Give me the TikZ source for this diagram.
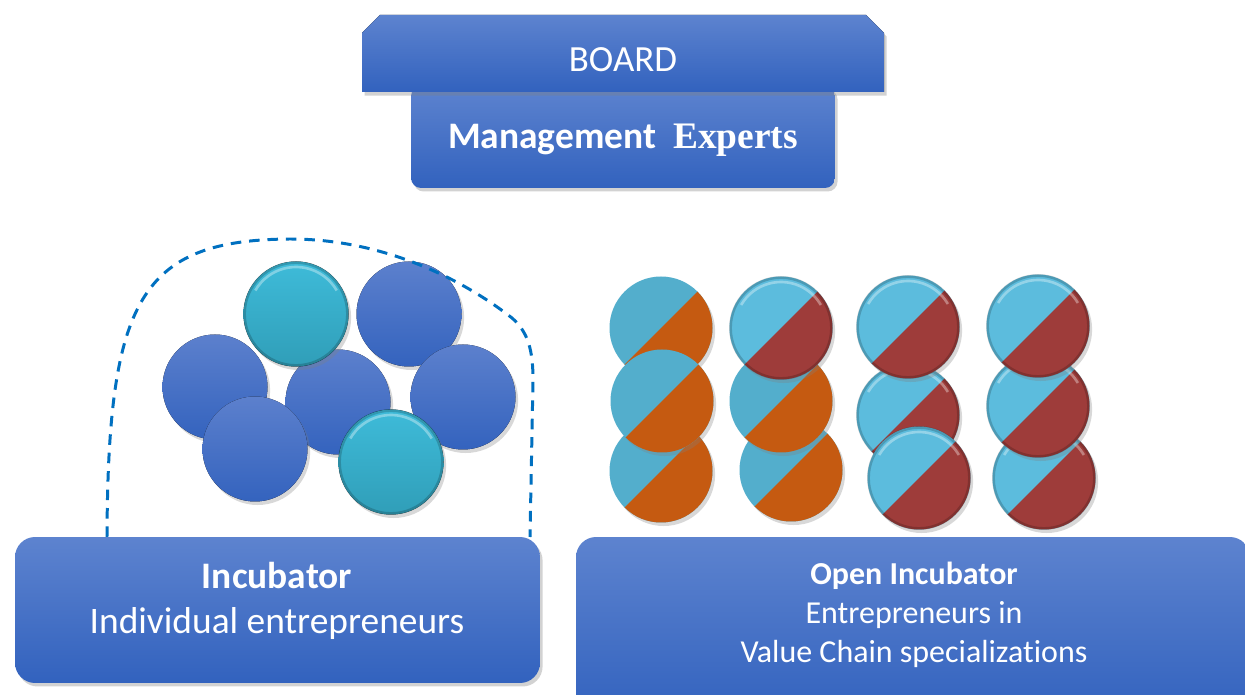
\documentclass[tikz,border=0pt]{standalone}
\usepackage{fontspec}
\setmainfont{Carlito}[Ligatures=NoCommon]
\newfontfamily\serifbold{Liberation Serif}
\usetikzlibrary{positioning,shadows}

\definecolor{boxtop}{RGB}{93,131,207}
\definecolor{boxbot}{RGB}{50,98,190}
\definecolor{dashblue}{RGB}{0,112,192}
\definecolor{discA}{RGB}{92,128,205}
\definecolor{discB}{RGB}{52,99,190}
\definecolor{tealA}{RGB}{62,187,217}
\definecolor{tealB}{RGB}{48,158,184}
\definecolor{flatcyan}{RGB}{83,174,204}
\definecolor{flatorange}{RGB}{197,90,17}
\definecolor{glosscyan}{RGB}{92,188,221}
\definecolor{glossred}{RGB}{158,60,58}

\begin{document}
\begin{tikzpicture}
  [x=0.02cm, y=-0.02cm,
   panel/.style={rounded corners=0.4cm, top color=boxtop, bottom color=boxbot,
     drop shadow={opacity=.35, shadow xshift=1.5pt, shadow yshift=-2pt}, inner sep=0pt},
   caption/.style={text=white, align=center},
   disc/.style={drop shadow={opacity=.3, shadow xshift=1.5pt, shadow yshift=-2pt}},
   bluedisc/.style={disc, top color=discA, bottom color=discB},
   tealdisc/.style={disc, top color=tealA, bottom color=tealB},
   rim/.style={draw=black, draw opacity=.18, line width=1.6pt},
   shine/.style={draw=white, draw opacity=.35, line width=1.5pt}]

  \useasboundingbox[fill=white] (0,0) rectangle (1245,695);
  \clip (0,0) rectangle (1245,695);

  % board and management
  \node[panel, rounded corners=0.2cm, minimum width=8.48cm, minimum height=2.04cm] (mgmt) at (623,137) {};
  \fill[panel, sharp corners] (362,92) -- (362,33) -- (380,15) -- (866,15) -- (884,33) -- (884,92) -- cycle;
  \node[caption, anchor=base, font=\fontsize{21}{25}\selectfont] (boardtext) at (623,72) {BOARD};
  \node[caption, anchor=base, font=\fontsize{21.3}{25}\selectfont\bfseries] (mgmttext) at (623,149)
    {Management\ \ {\serifbold Experts}};

  % incubator discs
  \foreach \cx/\cy/\kind in {409/314/bluedisc, 215/387/bluedisc, 338/402/bluedisc, 463/397/bluedisc,
                             296/314/tealdisc, 255/449/bluedisc, 391/462/tealdisc}
    \fill[\kind] (\cx,\cy) circle (52.5);
  \foreach \cx/\cy in {296/314, 391/462}
  {
    \draw[rim] (\cx,\cy) circle (51.5);
    \draw[shine] (\cx,\cy) ++(-150:47) arc[start angle=-150, end angle=-30, radius=47];
  }

  \draw[dashblue, line width=1.7pt, dash pattern=on 6pt off 4.5pt]
    (107,537) .. controls (108,300) and (140,240) .. (290,239)
    .. controls (390,239) and (470,285) .. (512,318)
    .. controls (528,332) and (533,350) .. (533,380) -- (530,537);

  % open incubator discs
  \foreach \cx/\cy/\base/\half/\glossy in {661/328/flatcyan/flatorange/0, 661/471/flatcyan/flatorange/0,
      662/401/flatcyan/flatorange/0, 791/470/flatcyan/flatorange/0, 781/401/flatcyan/flatorange/0,
      781/328/glosscyan/glossred/1, 908/415/glosscyan/glossred/1, 908/327/glosscyan/glossred/1,
      919/478/glosscyan/glossred/1, 1044/478/glosscyan/glossred/1, 1038/406/glosscyan/glossred/1,
      1038/326/glosscyan/glossred/1}
  {
    \fill[disc, fill=\base] (\cx,\cy) circle (51.5);
    \fill[\half] (\cx,\cy) ++(135:51.5) arc[start angle=135, end angle=-45, radius=51.5] -- cycle;
    \ifnum\glossy=1
      \draw[rim] (\cx,\cy) circle (50.5);
      \draw[shine] (\cx,\cy) ++(-150:46) arc[start angle=-150, end angle=-30, radius=46];
    \fi
  }

  % bottom panels
  \node[panel, minimum width=10.5cm, minimum height=2.92cm] (incubator) at (277.5,610) {};
  \node[caption, font=\fontsize{21.3}{25.5}\selectfont] (inctext) at (277,601)
    {{\bfseries Incubator}\\Individual entrepreneurs};

  \node[panel, minimum width=13.48cm, minimum height=3.64cm] (openinc) at (913,628) {};
  \node[caption, font=\fontsize{18.2}{22}\selectfont] (openinctext) at (914,615)
    {\textbf{Open Incubator}\\Entrepreneurs in\\Value Chain specializations};
\end{tikzpicture}
\end{document}
